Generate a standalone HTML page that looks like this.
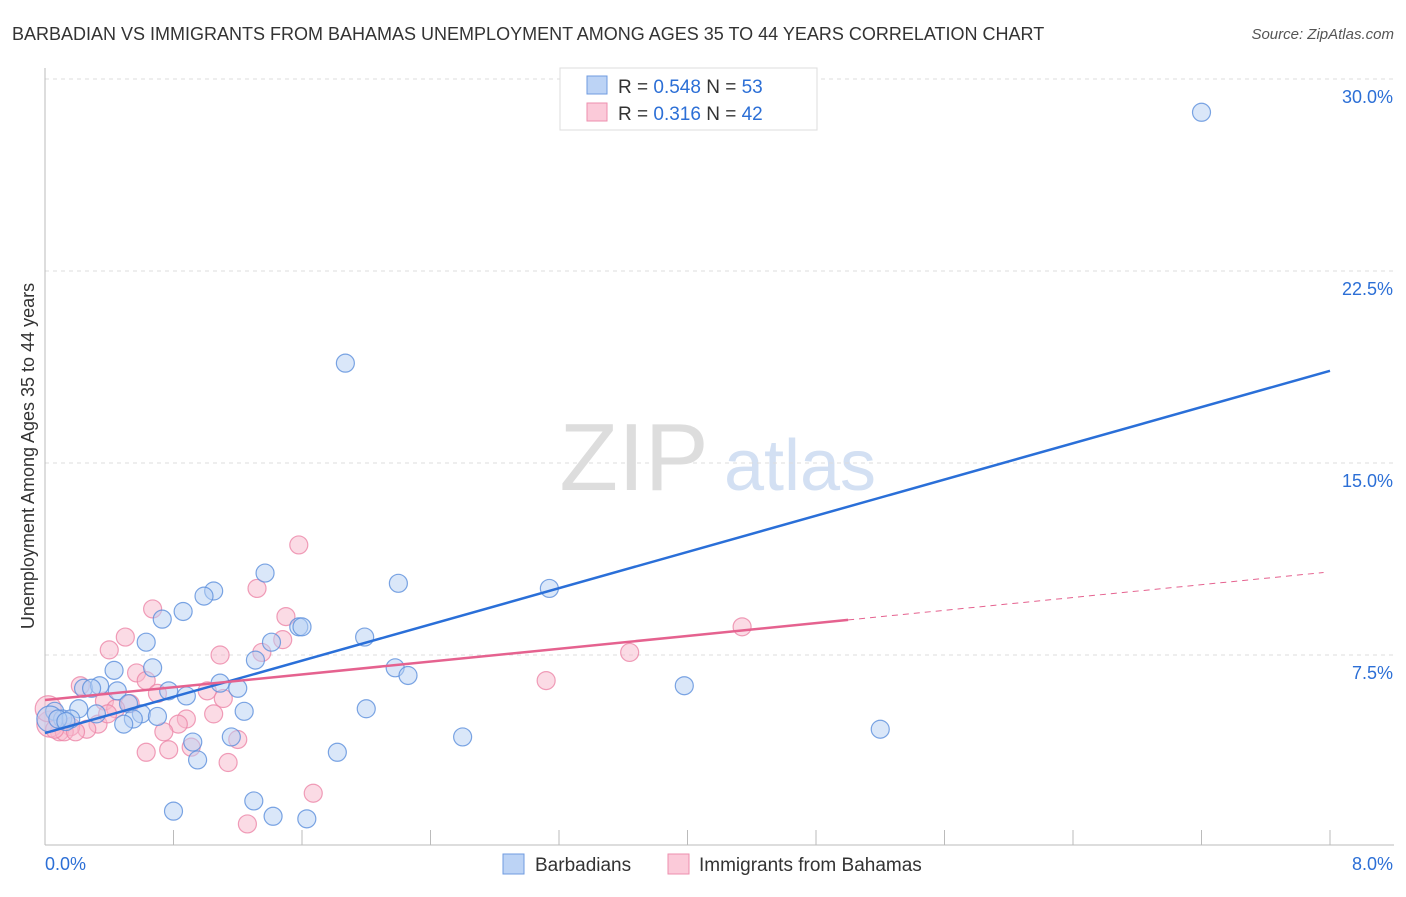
<!DOCTYPE html>
<html><head><meta charset="utf-8"><style>
body{margin:0;background:#fff;font-family:"Liberation Sans",sans-serif}
svg text{font-family:"Liberation Sans",sans-serif}
</style></head><body>
<svg id="c" width="1406" height="892" xmlns="http://www.w3.org/2000/svg">
<text x="12" y="40" font-size="18" fill="#333">BARBADIAN VS IMMIGRANTS FROM BAHAMAS UNEMPLOYMENT AMONG AGES 35 TO 44 YEARS CORRELATION CHART</text>
<text x="1394" y="39" font-size="15" fill="#555" font-style="italic" text-anchor="end">Source: ZipAtlas.com</text>
<text x="634" y="490" font-size="96" fill="#ddd" font-family="Liberation Serif" text-anchor="middle">ZIP</text>
<text x="800" y="490" font-size="72" fill="#d3e0f3" text-anchor="middle">atlas</text>
<text transform="translate(34,456) rotate(-90)" font-size="18" fill="#333" text-anchor="middle">Unemployment Among Ages 35 to 44 years</text>
<g id="grid"></g><g id="marks"></g>
<g>
<rect x="560" y="68" width="257" height="62" fill="#fff" stroke="#ddd"/>
<rect x="587" y="76" width="20" height="18" fill="#bcd3f5" stroke="#6f9be0"/>
<rect x="587" y="103" width="20" height="18" fill="#fbcad9" stroke="#ee8fae"/>
<text x="618" y="93" font-size="19" fill="#333">R = <tspan fill="#2c6fd6">0.548</tspan>   N = <tspan fill="#2c6fd6">53</tspan></text>
<text x="618" y="120" font-size="19" fill="#333">R =  <tspan fill="#2c6fd6">0.316</tspan>   N = <tspan fill="#2c6fd6">42</tspan></text>
</g>
<g>
<rect x="503" y="854" width="21" height="20" fill="#bcd3f5" stroke="#6f9be0"/>
<text x="535" y="871" font-size="19" fill="#333">Barbadians</text>
<rect x="668" y="854" width="21" height="20" fill="#fbcad9" stroke="#ee8fae"/>
<text x="699" y="871" font-size="19" fill="#333">Immigrants from Bahamas</text>
</g>
</svg>
<script>
const yTicks=[7.5,15,22.5,30];
const yTickLabels=["7.5%","15.0%","22.5%","30.0%"];
const xTickLabels=["0.0%","8.0%"];
const blueX=[7.20,1.87,3.14,2.20,1.37,1.05,0.99,0.86,0.73,1.58,1.60,1.41,0.63,1.99,1.31,0.67,0.43,2.18,2.26,3.98,1.09,1.20,0.77,0.88,0.45,0.24,0.34,0.29,0.52,0.21,0.32,0.60,0.70,1.24,2.00,0.55,0.49,0.06,0.11,0.16,0.03,5.20,2.60,1.16,0.92,1.82,0.95,1.30,0.80,1.42,1.63,0.08,0.13];
const blueY=[28.7,18.9,10.1,10.3,10.7,10.0,9.8,9.2,8.9,8.6,8.6,8.0,8.0,8.2,7.3,7.0,6.9,7.0,6.7,6.3,6.4,6.2,6.1,5.9,6.1,6.2,6.3,6.2,5.6,5.4,5.2,5.2,5.1,5.3,5.4,5.0,4.8,5.3,5.0,5.0,5.0,4.6,4.3,4.3,4.1,3.7,3.4,1.8,1.4,1.2,1.1,5.0,4.9];
const pinkX=[1.58,1.32,0.67,1.50,0.50,1.48,4.34,0.40,1.09,1.35,3.64,0.57,0.63,3.12,0.22,0.70,1.01,1.11,0.37,0.53,0.44,1.05,0.88,0.83,0.33,0.74,0.26,0.16,0.09,0.03,0.02,0.91,1.20,0.77,0.63,1.14,1.67,1.26,0.12,0.06,0.19,0.39];
const pinkY=[11.8,10.1,9.3,9.0,8.2,8.1,8.6,7.7,7.5,7.6,7.6,6.8,6.5,6.5,6.3,6.0,6.1,5.8,5.7,5.6,5.4,5.2,5.0,4.8,4.8,4.5,4.6,4.7,4.5,4.8,5.4,3.9,4.2,3.8,3.7,3.3,2.1,0.9,4.5,4.6,4.5,5.2];
const blueFit=[4.45,18.6];
const pinkFit=[5.74,0.626];
const X=v=>45+v/8*1285, Y=v=>847-v*25.6;
const NS="http://www.w3.org/2000/svg";
function mk(t,a,p){const e=document.createElementNS(NS,t);for(const k in a)e.setAttribute(k,a[k]);p.appendChild(e);return e;}
const g=document.getElementById('grid'),m=document.getElementById('marks');
yTicks.forEach((t,i)=>{
 const l=mk('line',{x1:45,x2:1394,y1:Y(t),y2:Y(t),stroke:'#ddd','stroke-dasharray':'4,4'},g);
 
 
 const tx=mk('text',{x:1393,y:Y(t)+24,'font-size':18,fill:'#2c6fd6','text-anchor':'end'},g);
 tx.textContent=yTickLabels[i];
 
 
});
const ax=mk('line',{x1:45,x2:1394,y1:845,y2:845,stroke:'#bbb'},g);


const ay=mk('line',{x1:45,x2:45,y1:68,y2:845,stroke:'#bbb'},g);


for(let i=1;i<=10;i++){const t=mk('line',{x1:X(i*0.8),x2:X(i*0.8),y1:830,y2:845,stroke:'#bbb'},g);
 
 }
[[0,45,'start'],[1,1393,'end']].forEach(([i,x,a])=>{const t=mk('text',{x:x,y:870,'font-size':18,fill:'#2c6fd6','text-anchor':a},g);t.textContent=xTickLabels[i];
 
 });
function pts(xs,ys,fill,stroke,name){xs.forEach((x,i)=>{const r=(x<0.05)?13:9;
 const c=mk('circle',{cx:X(x),cy:Y(ys[i]),r:r,fill:fill,'fill-opacity':0.5,stroke:stroke,'stroke-opacity':0.8,'stroke-width':1.2},m);
 
 });}
pts(pinkX,pinkY,'#f8b8cc','#ec86a8','bahamas-point');
pts(blueX,blueY,'#b6cff3','#5b8fdc','barbadian-point');
const bl=mk('line',{x1:X(0),y1:Y(blueFit[0]),x2:X(8),y2:Y(blueFit[1]),stroke:'#2a6fd8','stroke-width':2.5},m);


const pl=mk('line',{x1:X(0),y1:Y(pinkFit[0]),x2:X(5),y2:Y(pinkFit[0]+pinkFit[1]*5),stroke:'#e5628f','stroke-width':2.5},m);


const pd=mk('line',{x1:X(5),y1:Y(pinkFit[0]+pinkFit[1]*5),x2:X(7.96),y2:Y(pinkFit[0]+pinkFit[1]*7.96),stroke:'#e5628f','stroke-width':1,'stroke-dasharray':'6,5'},m);


</script>
</body></html>
